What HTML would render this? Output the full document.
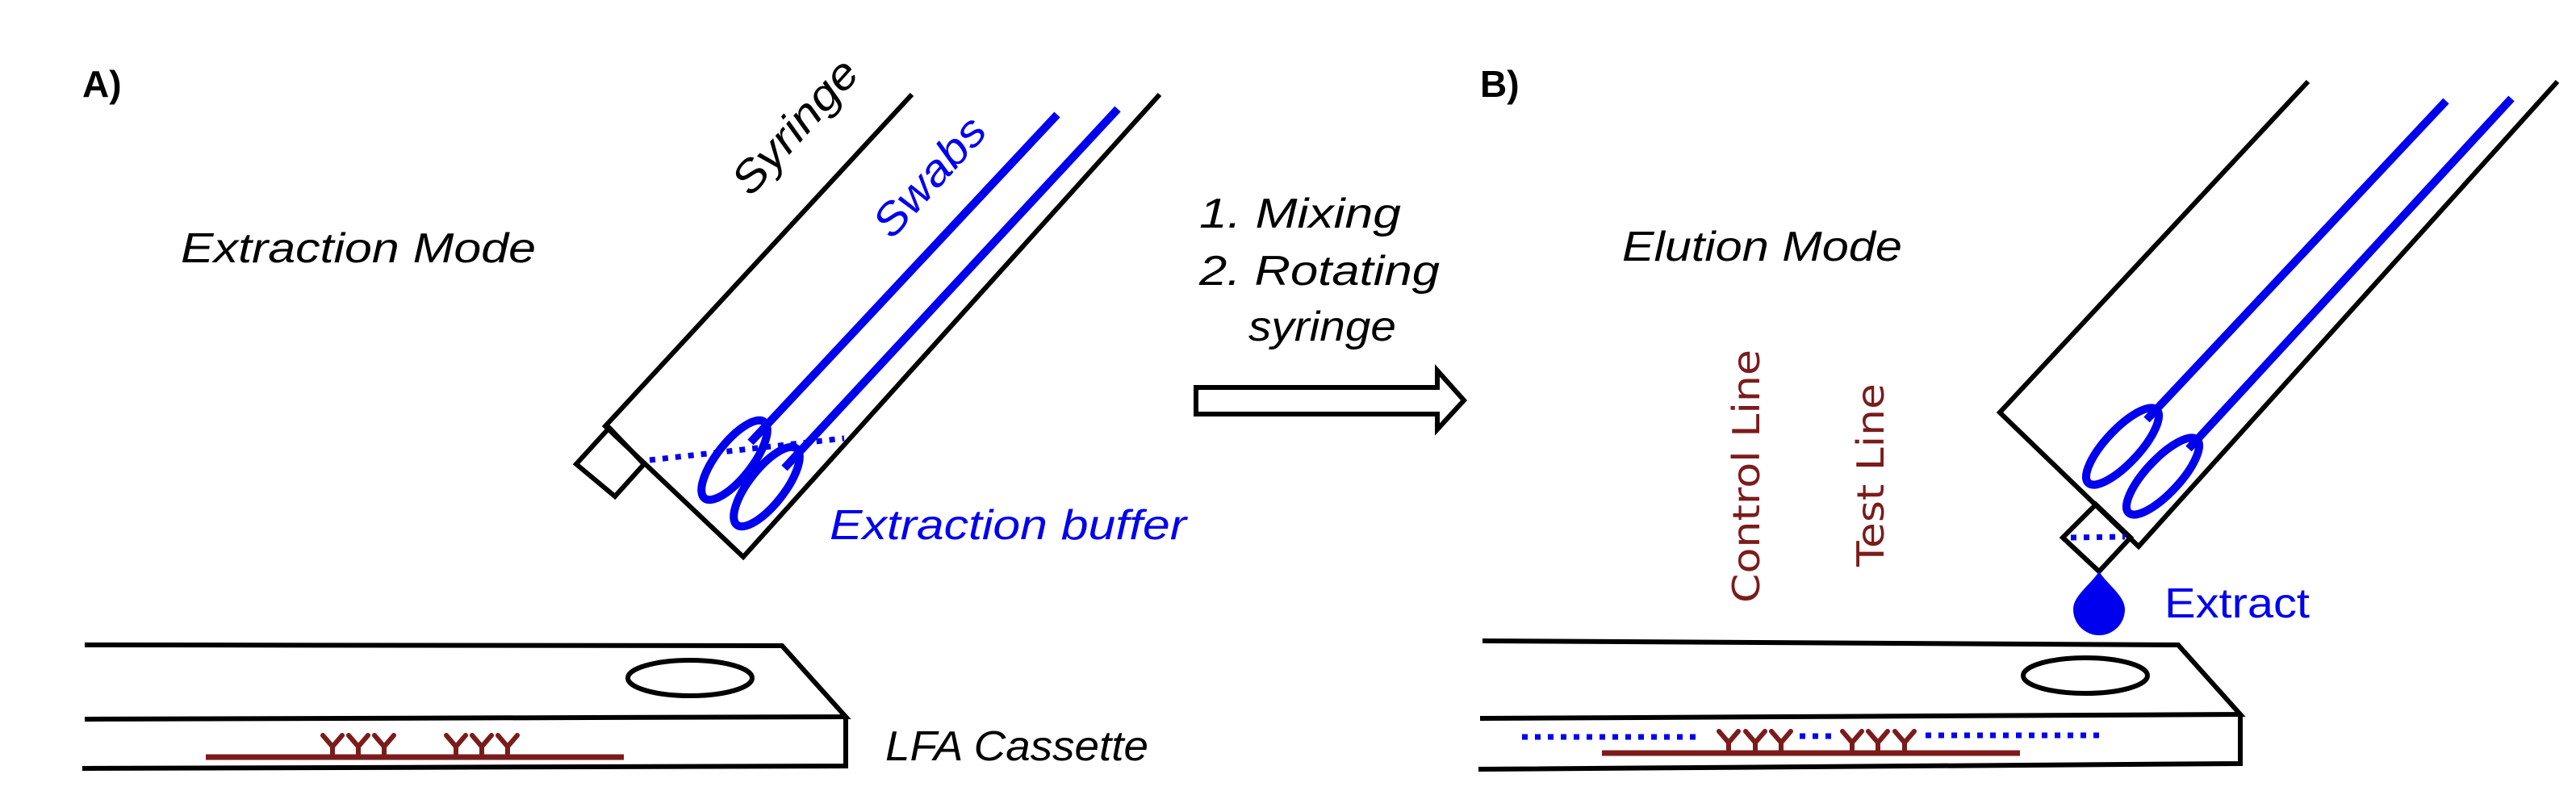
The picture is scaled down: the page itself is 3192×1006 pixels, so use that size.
<!DOCTYPE html>
<html><head><meta charset="utf-8"><style>html,body{margin:0;padding:0;background:#fff}svg{display:block}</style></head>
<body>
<svg width="3192" height="1006" viewBox="0 0 3192 1006" xmlns="http://www.w3.org/2000/svg">
<defs>
<g id="ab"><path d="M-12,-22 L0,-8 L12,-22 M0,-8 V5" stroke="#7b1c1c" stroke-width="6" fill="none" stroke-linecap="round"/></g>
</defs>
<g font-family="Liberation Sans, sans-serif">
<text x="102" y="120" font-size="46" font-weight="bold">A)</text>
<text x="1834" y="120" font-size="46" font-weight="bold">B)</text>
<text x="224" y="325" font-size="52" font-style="italic" textLength="440" lengthAdjust="spacingAndGlyphs">Extraction Mode</text>
<text x="2010" y="323" font-size="52" font-style="italic" textLength="347" lengthAdjust="spacingAndGlyphs">Elution Mode</text>
<text x="1486" y="282" font-size="52" font-style="italic" textLength="250" lengthAdjust="spacingAndGlyphs">1. Mixing</text>
<text x="1486" y="353" font-size="52" font-style="italic" textLength="298" lengthAdjust="spacingAndGlyphs">2. Rotating</text>
<text x="1547" y="422" font-size="52" font-style="italic" textLength="183" lengthAdjust="spacingAndGlyphs">syringe</text>
<text x="1097" y="942" font-size="52" font-style="italic" textLength="326" lengthAdjust="spacingAndGlyphs">LFA Cassette</text>
<text x="1028" y="668" font-size="52" font-style="italic" fill="#0000ee" textLength="442" lengthAdjust="spacingAndGlyphs">Extraction buffer</text>
<text x="2682" y="765" font-size="52" fill="#0000ee" textLength="180" lengthAdjust="spacingAndGlyphs">Extract</text>
<text transform="translate(930,245) rotate(-48)" font-size="54" font-style="italic" textLength="205" lengthAdjust="spacingAndGlyphs">Syringe</text>
<text transform="translate(1105,298) rotate(-48)" font-size="54" font-style="italic" fill="#0000ee" textLength="180" lengthAdjust="spacingAndGlyphs">Swabs</text>
<text transform="translate(2180,747) rotate(-90)" font-family="DejaVu Sans, sans-serif" font-size="46" fill="#7b1c1c" textLength="314" lengthAdjust="spacingAndGlyphs">Control Line</text>
<text transform="translate(2334,702) rotate(-90)" font-family="DejaVu Sans, sans-serif" font-size="46" fill="#7b1c1c" textLength="227" lengthAdjust="spacingAndGlyphs">Test Line</text>
</g>

<g fill="none" stroke="#000" stroke-width="6" stroke-linejoin="miter">
<polyline points="1130,117 750,528 921,690 1437,117"/>
<polygon points="755,530 714,575 762,615 798,575"/>
<polyline points="105,799 969,800 1048,888 105,891"/>
<polyline points="1048,888 1048,949 102,952"/>
<ellipse cx="855" cy="840" rx="77" ry="22"/>
<polygon points="1482,480 1781,480 1781,459 1814,496 1781,532 1781,513 1482,513"/>
<polyline points="2860,101 2478,511 2650,677 3169,101"/>
<polygon points="2597,625 2556,666 2601,708 2640,666"/>
<polyline points="1837,794 2699,799 2776,885 1834,890"/>
<polyline points="2776,885 2776,946 1832,953"/>
<ellipse cx="2584" cy="837" rx="77" ry="22"/>
</g>

<g fill="none" stroke="#0000ee" stroke-width="10">
<line x1="1310" y1="142" x2="930" y2="548"/>
<line x1="1385" y1="135" x2="972" y2="580"/>
<ellipse cx="910" cy="570" rx="60" ry="22" transform="rotate(-52 910 570)"/>
<ellipse cx="950" cy="603" rx="60" ry="22" transform="rotate(-52 950 603)"/>
<line x1="3031" y1="125" x2="2660" y2="520"/>
<line x1="3112" y1="122" x2="2712" y2="556"/>
<ellipse cx="2630" cy="553" rx="62" ry="21" transform="rotate(-47 2630 553)"/>
<ellipse cx="2680" cy="590" rx="62" ry="21" transform="rotate(-47 2680 590)"/>
</g>
<g fill="none" stroke="#0000ee" stroke-width="7" stroke-dasharray="7,9">
<line x1="805" y1="570" x2="1046" y2="543"/>
<line x1="2566" y1="666" x2="2633" y2="665"/>
<line x1="1886" y1="913" x2="2107" y2="913"/>
<line x1="2230" y1="912" x2="2274" y2="912"/>
<line x1="2386" y1="911" x2="2604" y2="911"/>
</g>
<path d="M2601,708 C2590,725 2569,738 2569,755 A32,32 0 0 0 2633,755 C2633,738 2612,725 2601,708 Z" fill="#0000ee"/>

<g stroke="#7b1c1c" stroke-width="7">
<line x1="255" y1="938" x2="773" y2="938"/>
<line x1="1985" y1="933" x2="2503" y2="933"/>
</g>
<g>
<use href="#ab" x="412" y="933"/><use href="#ab" x="444" y="933"/><use href="#ab" x="476" y="933"/>
<use href="#ab" x="565" y="933"/><use href="#ab" x="597" y="933"/><use href="#ab" x="629" y="933"/>
<use href="#ab" x="2142" y="928"/><use href="#ab" x="2175" y="928"/><use href="#ab" x="2207" y="928"/>
<use href="#ab" x="2295" y="928"/><use href="#ab" x="2327" y="928"/><use href="#ab" x="2360" y="928"/>
</g>
</svg>
</body></html>
